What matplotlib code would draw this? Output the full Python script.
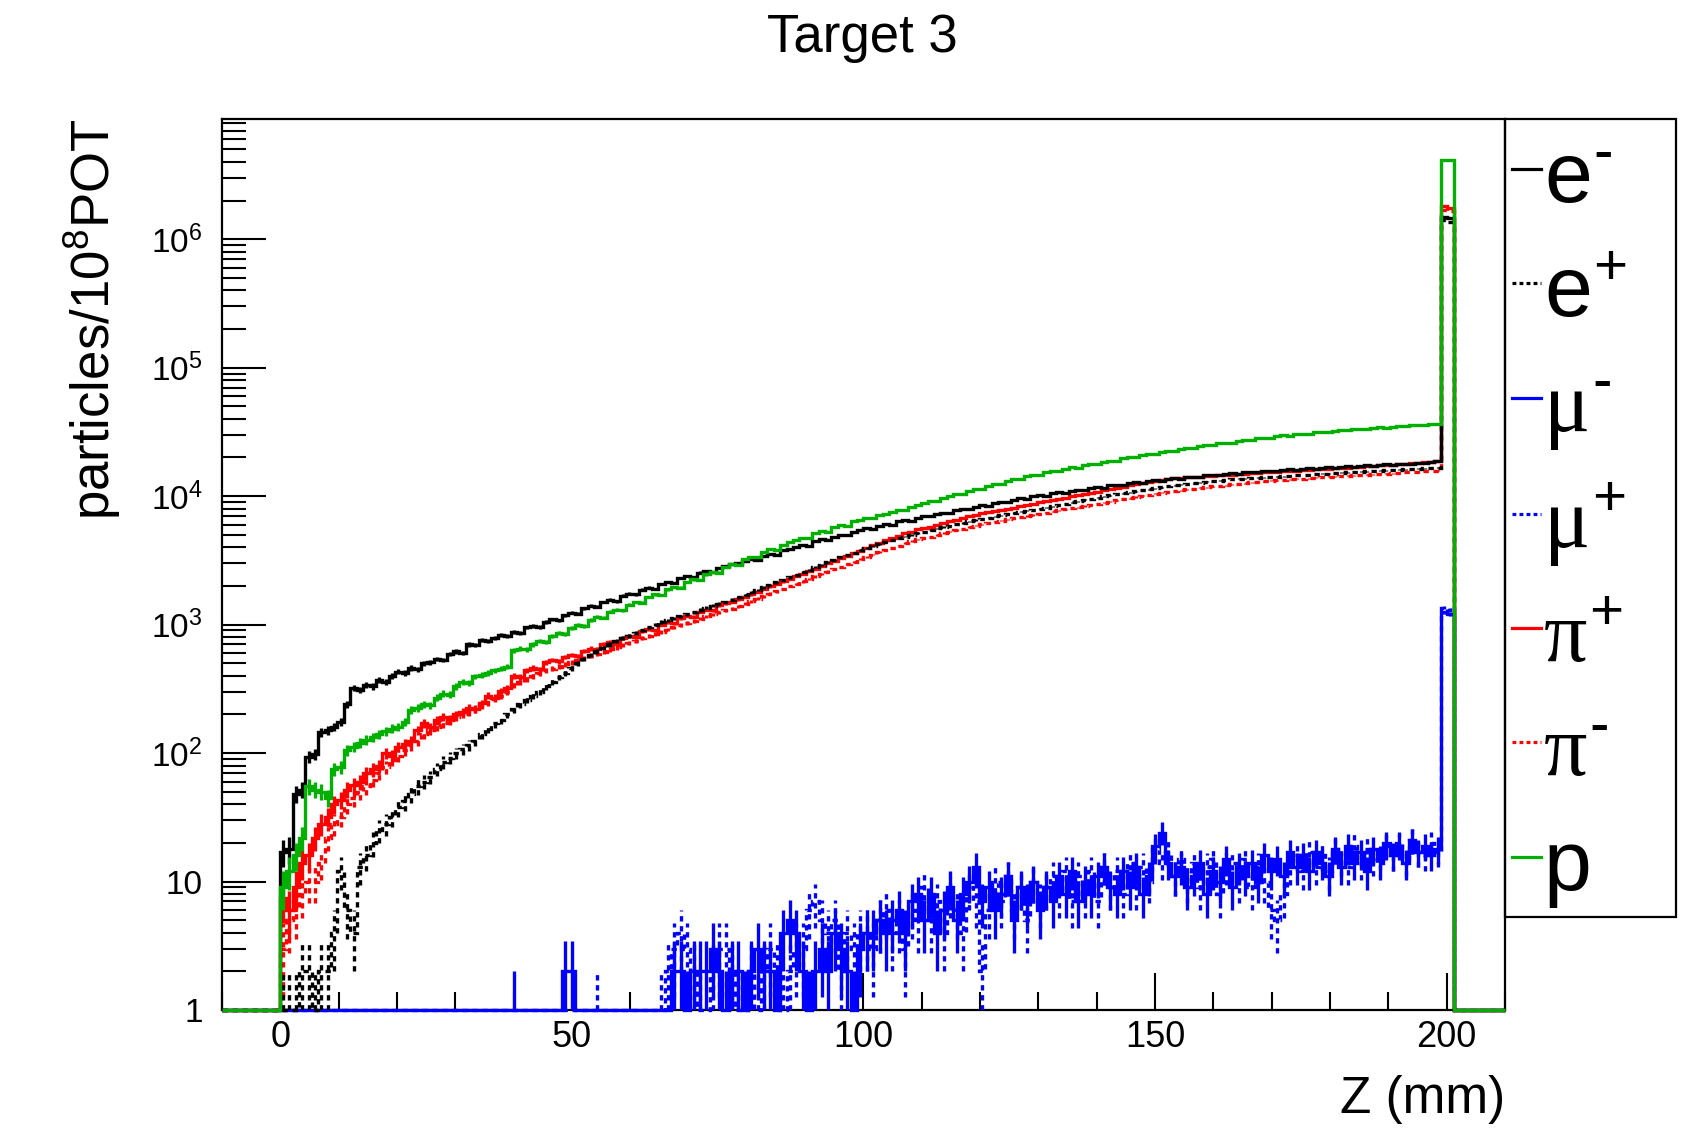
import numpy as np
import matplotlib
matplotlib.use("Agg")
import matplotlib.pyplot as plt
from matplotlib.ticker import FixedLocator, LogLocator, NullFormatter, FixedFormatter
from matplotlib.lines import Line2D
from matplotlib.patches import Rectangle

plt.rcParams['font.family'] = ['Liberation Sans', 'DejaVu Sans']
plt.rcParams['mathtext.fontset'] = 'custom'
plt.rcParams['mathtext.rm'] = 'Liberation Sans'
plt.rcParams['mathtext.it'] = 'Liberation Sans:italic'
plt.rcParams['mathtext.bf'] = 'Liberation Sans:bold'

# ---------------- data ----------------
title = "Target 3"
x_label = "Z (mm)"
y_label = r"particles/10$^{8}$POT"
x_min, x_max, n_bins = -10.0, 210.0, 200
first_bin = 9          # first filled bin (z = -0.1 mm)
peak_bin = 190         # two-bin exit peak (198.9 - 201.1 mm)
y_min, y_max = 1.0, 8.7e6

x_ticks = [0, 50, 100, 150, 200]
y_ticks = [1, 10, 1e2, 1e3, 1e4, 1e5, 1e6]
y_tick_labels = ["1", "10", r"$\mathregular{10^{2}}$", r"$\mathregular{10^{3}}$",
                 r"$\mathregular{10^{4}}$", r"$\mathregular{10^{5}}$", r"$\mathregular{10^{6}}$"]

e_minus = [
    17, 18, 48, 52, 94, 98, 145, 150, 160, 175,
    240, 320, 310, 340, 330, 370, 360, 400, 430, 420,
    460, 450, 500, 510, 540, 530, 590, 620, 600, 700,
    690, 760, 750, 790, 830, 820, 880, 860, 950, 980,
    960, 1050, 1100, 1080, 1180, 1240, 1220, 1340, 1400, 1380,
    1500, 1560, 1520, 1680, 1740, 1720, 1870, 1940, 1900, 2080,
    2150, 2100, 2300, 2380, 2350, 2540, 2620, 2580, 2780, 2860,
    2950, 3000, 3150, 3250, 3200, 3450, 3550, 3500, 3800, 3900,
    4000, 4150, 4100, 4450, 4600, 4550, 4850, 5000, 4950, 5300,
    5450, 5600, 5550, 5900, 6050, 6000, 6350, 6500, 6400, 6800,
    7000, 6950, 7300, 7450, 7400, 7800, 7950, 7900, 8300, 8500,
    8450, 8850, 9000, 8950, 9400, 9600, 9500, 10000, 10150, 10100,
    10500, 10700, 10600, 11000, 11200, 11100, 11550, 11700, 11650, 12100,
    12300, 12200, 12600, 12800, 12700, 13100, 13300, 13200, 13600, 13750,
    13700, 14050, 14200, 14100, 14500, 14650, 14550, 14950, 15050, 15000,
    15300, 15450, 15400, 15700, 15800, 15700, 16050, 16150, 16100, 16350,
    16450, 16400, 16650, 16750, 16700, 16950, 17050, 17000, 17250, 17350,
    17300, 17550, 17650, 17600, 17800, 17900, 17850, 18100, 18200, 18400, 18800]

e_plus = [
    1, 1, 1, 2, 2, 1, 2, 2, 4, 12,
    6, 4, 13, 16, 20, 25, 28, 32, 38, 42,
    48, 55, 60, 65, 75, 85, 92, 100, 107, 115,
    125, 140, 155, 170, 182, 200, 220, 240, 260, 280,
    300, 330, 360, 390, 420, 460, 500, 540, 580, 620,
    660, 700, 740, 780, 820, 860, 900, 950, 1000, 1050,
    1080, 1120, 1160, 1200, 1250, 1300, 1350, 1400, 1450, 1500,
    1560, 1630, 1700, 1780, 1860, 1950, 2040, 2130, 2230, 2330,
    2440, 2550, 2670, 2790, 2920, 3050, 3190, 3330, 3480, 3630,
    3790, 3950, 4100, 4250, 4400, 4550, 4700, 4850, 5000, 5150,
    5300, 5450, 5600, 5750, 5900, 6050, 6200, 6350, 6500, 6650,
    6800, 6950, 7100, 7250, 7400, 7550, 7700, 7850, 8000, 8150,
    8350, 8550, 8750, 8950, 9150, 9350, 9550, 9750, 9950, 10150,
    10350, 10550, 10750, 10950, 11150, 11350, 11550, 11750, 11950, 12150,
    12300, 12450, 12600, 12750, 12900, 13050, 13200, 13350, 13500, 13600,
    13700, 13800, 13900, 14000, 14100, 14200, 14300, 14400, 14500, 14600,
    14700, 14800, 14900, 15000, 15100, 15200, 15300, 15400, 15500, 15600,
    15700, 15800, 15900, 16000, 16100, 16200, 16300, 16400, 16500, 16600, 16700]

mu_minus = [
    0, 0, 0, 0, 0, 0, 0, 0, 0, 0,
    0, 0, 0, 0, 0, 0, 0, 0, 0, 0,
    0, 0, 0, 0, 0, 0, 0, 0, 0, 0,
    0, 0, 0, 0, 0, 0, 1, 0, 0, 0,
    0, 0, 0, 0, 2, 2, 0, 0, 0, 0,
    0, 0, 0, 0, 0, 0, 0, 0, 0, 0,
    0, 2, 2, 1, 2, 2, 2, 3, 2, 1,
    2, 2, 1, 2, 3, 2, 2, 1, 4, 5,
    4, 2, 1, 2, 3, 2, 4, 3, 2, 1,
    3, 4, 4, 5, 4, 5, 6, 4, 7, 8,
    5, 8, 4, 6, 9, 5, 8, 10, 13, 7,
    9, 6, 8, 11, 5, 9, 7, 10, 6, 9,
    7, 11, 8, 12, 7, 10, 8, 11, 13, 9,
    8, 12, 9, 13, 8, 11, 19, 24, 14, 11,
    13, 9, 11, 14, 8, 12, 10, 15, 9, 13,
    11, 14, 10, 16, 12, 15, 11, 17, 13, 16,
    12, 17, 14, 11, 18, 13, 19, 14, 17, 12,
    18, 15, 20, 16, 19, 14, 21, 17, 19, 16, 18]

mu_plus = [
    0, 0, 0, 0, 0, 0, 0, 0, 0, 0,
    0, 0, 0, 0, 0, 0, 0, 0, 0, 0,
    0, 0, 0, 0, 0, 0, 0, 0, 0, 0,
    0, 0, 0, 0, 0, 0, 0, 0, 0, 0,
    0, 0, 0, 0, 0, 0, 0, 0, 0, 1,
    0, 0, 0, 0, 0, 0, 0, 0, 0, 1,
    2, 3, 4, 3, 2, 1, 0, 2, 3, 3,
    2, 1, 0, 2, 1, 2, 3, 2, 1, 2,
    3, 3, 6, 7, 5, 4, 5, 2, 4, 3,
    4, 4, 3, 5, 6, 4, 5, 3, 6, 5,
    9, 5, 7, 4, 8, 6, 4, 9, 7, 2,
    6, 10, 7, 11, 6, 9, 5, 10, 7, 9,
    11, 8, 12, 7, 11, 8, 12, 7, 13, 9,
    12, 8, 14, 9, 13, 10, 18, 14, 17, 11,
    15, 10, 14, 9, 13, 15, 8, 13, 14, 10,
    15, 9, 13, 10, 6, 5, 8, 13, 16, 12,
    17, 13, 16, 12, 18, 15, 13, 19, 14, 18,
    15, 14, 19, 16, 20, 15, 21, 17, 16, 20, 17]

pi_plus = [
    7.5, 6, 9, 14, 16, 22, 28, 32, 40, 43,
    52, 56, 60, 70, 75, 80, 100, 95, 112, 118,
    125, 150, 170, 160, 180, 190, 185, 200, 210, 225,
    220, 245, 280, 270, 305, 320, 400, 390, 440, 460,
    450, 510, 530, 520, 560, 580, 570, 625, 650, 640,
    700, 730, 710, 790, 820, 800, 890, 920, 900, 1000,
    1040, 1020, 1120, 1170, 1150, 1260, 1310, 1290, 1410, 1460,
    1500, 1570, 1640, 1720, 1800, 1890, 1980, 2070, 2170, 2270,
    2380, 2490, 2610, 2730, 2860, 3000, 3140, 3290, 3440, 3600,
    3770, 3950, 4130, 4320, 4520, 4700, 4900, 5150, 5300, 5500,
    5650, 5800, 6000, 6200, 6400, 6550, 6750, 6950, 7150, 7350,
    7550, 7700, 7850, 8000, 8150, 8350, 8550, 8750, 8950, 9150,
    9350, 9550, 9750, 9950, 10200, 10400, 10650, 10850, 11100, 11350,
    11600, 11850, 12100, 12350, 12650, 12900, 13150, 13400, 13600, 13800,
    13900, 14000, 14100, 14200, 14300, 14400, 14500, 14600, 14700, 14800,
    14950, 15100, 15200, 15300, 15400, 15500, 15600, 15700, 15800, 15900,
    16050, 16200, 16300, 16400, 16500, 16600, 16700, 16850, 17000, 17100,
    17200, 17350, 17500, 17600, 17700, 17850, 18000, 18150, 18300, 18500, 18700]

pi_minus = [
    3, 5, 6, 8, 10, 10, 14, 22, 28, 32,
    40, 45, 50, 55, 62, 70, 78, 88, 95, 105,
    115, 125, 140, 150, 160, 170, 180, 190, 200, 210,
    220, 235, 250, 265, 280, 300, 340, 360, 380, 400,
    420, 440, 455, 470, 490, 510, 530, 550, 570, 590,
    615, 640, 665, 695, 720, 750, 780, 810, 845, 880,
    915, 950, 990, 1030, 1070, 1110, 1160, 1200, 1250, 1290,
    1330, 1390, 1450, 1520, 1590, 1660, 1740, 1820, 1900, 1990,
    2080, 2170, 2270, 2370, 2480, 2590, 2710, 2830, 2950, 3080,
    3220, 3360, 3510, 3660, 3820, 3960, 4120, 4300, 4450, 4600,
    4730, 4850, 5000, 5150, 5300, 5430, 5580, 5730, 5880, 6030,
    6180, 6320, 6450, 6580, 6700, 6850, 7000, 7150, 7300, 7450,
    7600, 7750, 7900, 8050, 8200, 8380, 8550, 8720, 8900, 9080,
    9260, 9450, 9650, 9850, 10050, 10250, 10450, 10650, 10850, 11000,
    11150, 11300, 11450, 11600, 11750, 11900, 12050, 12200, 12350, 12500,
    12650, 12800, 12950, 13100, 13200, 13300, 13400, 13500, 13600, 13700,
    13800, 13900, 14000, 14100, 14200, 14300, 14400, 14500, 14600, 14700,
    14800, 14900, 15000, 15100, 15200, 15300, 15400, 15500, 15600, 15700, 15800]

proton = [
    9, 12, 16, 22, 55, 52, 50, 45, 75, 78,
    106, 112, 120, 127, 133, 140, 148, 155, 160, 175,
    217, 225, 240, 235, 270, 290, 285, 330, 355, 350,
    395, 405, 420, 440, 455, 470, 630, 650, 640, 700,
    740, 730, 820, 860, 850, 940, 990, 980, 1090, 1150,
    1130, 1260, 1310, 1290, 1430, 1500, 1480, 1640, 1720, 1700,
    1880, 1960, 1940, 2150, 2250, 2230, 2460, 2570, 2540, 2800,
    2940, 2900, 3220, 3370, 3330, 3680, 3850, 3800, 4200, 4380,
    4560, 4750, 4700, 5150, 5350, 5300, 5750, 5950, 5900, 6350,
    6550, 6750, 6700, 7150, 7300, 7550, 7800, 7750, 8300, 8600,
    8850, 9150, 9100, 9750, 10050, 10350, 10300, 11000, 11350, 11300,
    12050, 12400, 12350, 13150, 13550, 13500, 14300, 14650, 14600, 15350,
    15700, 15650, 16400, 16750, 16700, 17450, 17800, 17750, 18500, 18900,
    18850, 19700, 20100, 20050, 20900, 21300, 21250, 22100, 22500, 22450,
    23300, 23700, 23650, 24500, 24900, 24850, 25700, 26100, 26050, 26900,
    27300, 27250, 28100, 28500, 28450, 29300, 29650, 29600, 30350, 30700,
    30650, 31300, 31600, 31550, 32200, 32500, 32450, 33100, 33400, 33350,
    34000, 34250, 34200, 34750, 35000, 34950, 35500, 35750, 35700, 36300, 36600]

# exit-face peak (two bins)
e_minus_peak = [1.5e6, 1.45e6]
e_plus_peak = [1.4e6, 1.35e6]
mu_minus_peak = [1250, 1200]
mu_plus_peak = [1350, 1300]
pi_plus_peak = [1.8e6, 1.75e6]
pi_minus_peak = [1.7e6, 1.65e6]
proton_peak = [4.1e6, 4.1e6]

labels = ["e", "e", "μ", "μ", "π", "π", "p"]
label_sups = ["-", "+", "-", "+", "+", "-", ""]
colors = ["black", "black", "#0000ff", "#0000ff", "#ff0000", "#ff0000", "#00b000"]
dashed = [False, True, False, True, False, True, False]
series = [(e_minus, e_minus_peak), (e_plus, e_plus_peak), (mu_minus, mu_minus_peak),
          (mu_plus, mu_plus_peak), (pi_plus, pi_plus_peak), (pi_minus, pi_minus_peak),
          (proton, proton_peak)]

# ---------------- figure ----------------
W, H = 1690, 1132
fig = plt.figure(figsize=(W / 100, H / 100), dpi=100)
ax_l, ax_r, ax_t, ax_b = 222, 1505, 118.5, 1010
ax = fig.add_axes([ax_l / W, 1 - ax_b / H, (ax_r - ax_l) / W, (ax_b - ax_t) / H])
ax.set_yscale("log")
ax.set_xlim(x_min, x_max)
ax.set_ylim(y_min, y_max)

edges = np.linspace(x_min, x_max, n_bins + 1)
centers = 0.5 * (edges[:-1] + edges[1:])
dash_pat = (0, (1.6, 1.4))
lw = 2.4

draw_order = [2, 3, 4, 5, 0, 1, 6]
for k, i in enumerate(draw_order):
    vals, peak = series[i]
    full = np.zeros(n_bins)
    full[first_bin:first_bin + len(vals)] = vals
    full[peak_bin:peak_bin + len(peak)] = peak
    shown = np.where(full > 0, full, y_min)
    ls = dash_pat if dashed[i] else "solid"
    ax.stairs(shown, edges, baseline=None, color=colors[i], lw=lw, linestyle=ls,
              clip_on=False, zorder=3 + k * 0.1)
    m = full > 0
    err = np.sqrt(full[m])
    lo = np.maximum(full[m] - err, y_min)
    hi = full[m] + err
    ax.vlines(centers[m], lo, hi, color=colors[i], lw=lw, linestyles=[ls],
              zorder=3 + k * 0.1)

# ticks
ax.xaxis.set_major_locator(FixedLocator(x_ticks))
ax.xaxis.set_minor_locator(FixedLocator(np.arange(-10, 211, 10)))
ax.yaxis.set_major_locator(FixedLocator(y_ticks))
ax.yaxis.set_major_formatter(FixedFormatter(y_tick_labels))
ax.yaxis.set_minor_locator(LogLocator(base=10, subs=np.arange(2, 10)))
ax.yaxis.set_minor_formatter(NullFormatter())
ax.tick_params(axis="x", which="major", direction="in", length=27, width=1.5,
               top=False, labelsize=26, pad=7)
ax.tick_params(axis="x", which="minor", direction="in", length=13, width=1.5, top=False)
ax.tick_params(axis="y", which="major", direction="in", length=32, width=1.5,
               right=False, labelsize=24, pad=14)
ax.tick_params(axis="y", which="minor", direction="in", length=17, width=1.5, right=False)
for s in ax.spines.values():
    s.set_linewidth(1.6)

# labels
fig.text(862 / W, 1 - 38 / H, title, ha="center", va="center", fontsize=38)
fig.text(ax_r / W, 1 - 1100 / H, x_label, ha="right", va="center", fontsize=37)
fig.text(92 / W, 1 - ax_t / H, y_label, ha="center", va="top", rotation=90, fontsize=38)

# legend
leg_l, leg_r, leg_t, leg_b = 1505, 1676, 118.5, 917
fig.add_artist(Rectangle((leg_l / W, 1 - leg_b / H), (leg_r - leg_l) / W, (leg_b - leg_t) / H,
                         transform=fig.transFigure, fill=False, lw=1.6, ec="black"))
entry_y = [169, 283, 398, 514, 628, 742, 857]
fig.canvas.draw()
renderer = fig.canvas.get_renderer()
for i, y in enumerate(entry_y):
    ls = (0, (1.2, 1.0)) if dashed[i] else "solid"
    fig.add_artist(Line2D([1512 / W, 1541 / W], [1 - y / H, 1 - y / H], transform=fig.transFigure,
                          color=colors[i], lw=2.3, linestyle=ls))
    fam = ['Liberation Serif', 'DejaVu Serif'] if labels[i] in ("μ", "π") else ['Liberation Sans']
    t = fig.text(1544 / W, 1 - (y + 33) / H, labels[i], ha="left", va="baseline",
                 fontsize=62, family=fam)
    if label_sups[i]:
        bb = t.get_window_extent(renderer=renderer)
        fig.text(bb.x1 / W + 0.001, 1 - (y - 14) / H, label_sups[i], ha="left", va="center",
                 fontsize=42)

fig.savefig("out.png", dpi=100)
